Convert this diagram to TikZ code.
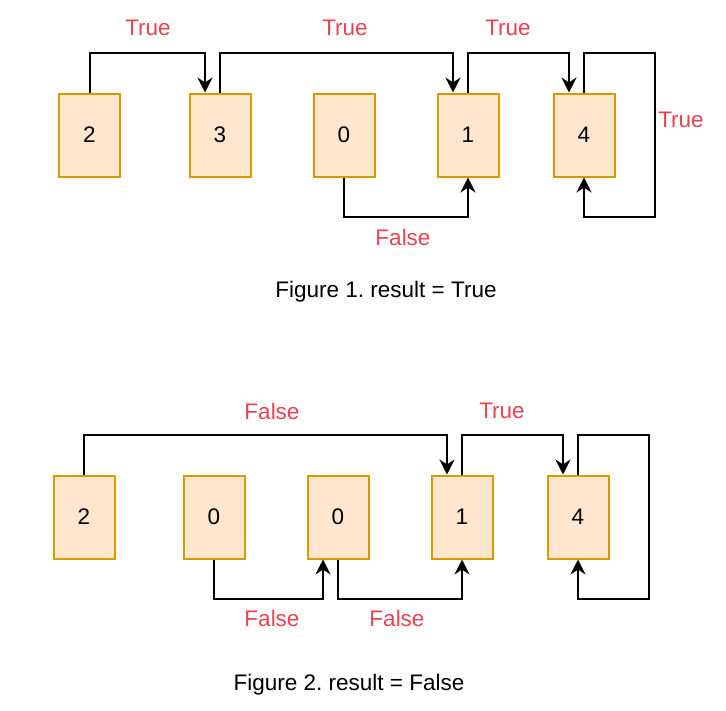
\documentclass[tikz,border=0pt]{standalone}
\usepackage{fontspec}
\setmainfont{Liberation Sans}
\usetikzlibrary{arrows.meta}
\frenchspacing
\definecolor{boxfill}{RGB}{255,230,204}
\definecolor{boxline}{RGB}{215,155,0}
\definecolor{lblred}{RGB}{234,67,80}
\tikzset{
  cell/.style={draw=boxline, fill=boxfill, line width=2pt, minimum width=61pt, minimum height=83pt, inner sep=0pt, font=\fontsize{22.5}{26}\selectfont},
  conn/.style={line width=2pt, -{Stealth[length=15pt,width=15pt,inset=5pt]}},
  lbl/.style={text=lblred, font=\fontsize{22.5}{26}\selectfont},
  captiontext/.style={font=\fontsize{22.5}{26}\selectfont}
}
\begin{document}
\begin{tikzpicture}[x=1pt,y=-1pt]
\useasboundingbox (0,0) rectangle (726,710);
% Figure 1
\node[cell] (a2) at (89.5,135) {2};
\node[cell] (a3) at (220,135) {3};
\node[cell] (a0) at (344,135) {0};
\node[cell] (a1) at (468,135) {1};
\node[cell] (a4) at (584,135) {4};
\draw[conn] (a2.north) |- (150,53) -| ([xshift=-15pt]a3.north);
\draw[conn] (a3.north) |- (300,53) -| ([xshift=-15pt]a1.north);
\draw[conn] (a1.north) |- (520,53) -| ([xshift=-15pt]a4.north);
\draw[conn] (a4.north) |- (655,53) -- (655,217) -| (a4.south);
\draw[conn] (a0.south) |- (400,217) -| (a1.south);
\node[lbl] (t1) at (148,28) {True};
\node[lbl] (t2) at (345,28) {True};
\node[lbl] (t3) at (508,28) {True};
\node[lbl] (t4) at (681,120) {True};
\node[lbl] (f1) at (403,237) {False};
\node[captiontext] (c1) at (386,292) {Figure 1. result = True};
% Figure 2
\node[cell] (b2) at (84,517) {2};
\node[cell] (b0) at (214,517) {0};
\node[cell] (b9) at (338,517) {0};
\node[cell] (b1) at (462,517) {1};
\node[cell] (b4) at (578,517) {4};
\draw[conn] (b2.north) |- (300,435) -| ([xshift=-15pt]b1.north);
\draw[conn] (b1.north) |- (520,435) -| ([xshift=-15pt]b4.north);
\draw[conn] (b4.north) |- (649,435) -- (649,599) -| (b4.south);
\draw[conn] (b0.south) |- (270,599) -| ([xshift=-15pt]b9.south);
\draw[conn] (b9.south) |- (400,599) -| (b1.south);
\node[lbl] (g1) at (272,411) {False};
\node[lbl] (g2) at (502,411) {True};
\node[lbl] (g3) at (272,618) {False};
\node[lbl] (g4) at (397,618) {False};
\node[captiontext] (c2) at (349,685) {Figure 2. result = False};
\end{tikzpicture}
\end{document}
